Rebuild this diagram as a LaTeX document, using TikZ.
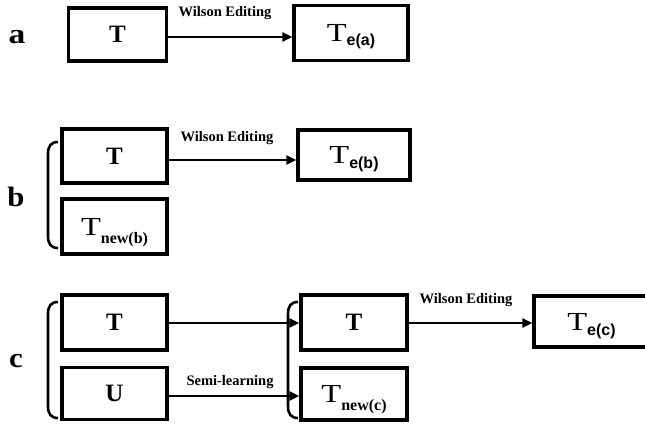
\documentclass[tikz,border=0pt]{standalone}
\usepackage{fontspec}
\setmainfont{Liberation Serif}
\setsansfont{Liberation Sans}
\usetikzlibrary{arrows.meta}
\newcommand{\plaintxt}[1]{{\fontsize{25}{25}\selectfont\bfseries #1}}
\newcommand{\subtxt}[3]{{\fontsize{26}{26}\selectfont\scalebox{1.25}[1]{T}\smash{\raisebox{#3}{\fontsize{16}{16}\selectfont #1\bfseries #2}}}}
\tikzset{
  bx/.style={draw=black, line width=3.2pt, inner sep=0pt, rectangle},
  arr/.style={line width=2.6pt, -{Triangle[length=10pt,width=9pt]}},
  lbl/.style={font=\fontsize{14.5}{15}\selectfont\bfseries, inner sep=0pt},
  rowlbl/.style={font=\fontsize{28}{28}\selectfont\bfseries, inner sep=0pt},
  brc/.style={line width=2.6pt}
}
\begin{document}
\begin{tikzpicture}[x=1pt,y=-1pt]
\useasboundingbox (0,0) rectangle (645,423);
\clip (0,0) rectangle (645,423);
% row a
\node[rowlbl] (la) at (17,37) {\scalebox{1.2}[1]{a}};
\node[bx, minimum width=98pt, minimum height=53pt] (Ta) at (117.5,34.5) {\plaintxt{T}};
\node[bx, minimum width=114pt, minimum height=55pt] (Tea) at (351,33) {\subtxt{\sffamily}{e(a)}{-4pt}};
\draw[arr] (Ta.east |- 0,37) -- (Tea.west |- 0,37);
\node[lbl] (wa) at (225,13) {Wilson Editing};
% row b
\node[rowlbl] (lb) at (16,197) {\scalebox{1.1}[1]{b}};
\node[bx, minimum width=105pt, minimum height=54pt] (Tb) at (114.5,156) {\plaintxt{T}};
\node[bx, minimum width=105pt, minimum height=55pt] (Tnb) at (114.5,226.5) {\subtxt{\rmfamily}{new(b)}{-8pt}};
\node[bx, minimum width=112pt, minimum height=50pt] (Teb) at (354,155) {\subtxt{\sffamily}{e(b)}{-5pt}};
\draw[arr] (Tb.east |- 0,160) -- (Teb.west |- 0,160);
\node[lbl] (wb) at (227,138) {Wilson Editing};
\draw[brc] (58,142) .. controls (51,142) and (48,146) .. (48,154) -- (48,236) .. controls (48,244) and (51,248) .. (58,248);
% row c
\node[rowlbl] (lc) at (16,361) {\scalebox{1.1}[1]{c}};
\node[bx, minimum width=105pt, minimum height=55pt] (Tc) at (114.5,322.5) {\plaintxt{T}};
\node[bx, minimum width=105pt, minimum height=52pt] (Uc) at (114.5,393.5) {\plaintxt{U}};
\node[bx, minimum width=106pt, minimum height=55pt] (Tc2) at (354,322.5) {\plaintxt{T}};
\node[bx, minimum width=106pt, minimum height=52pt] (Tnc) at (354,394) {\subtxt{\rmfamily}{new(c)}{-8pt}};
\node[bx, minimum width=126pt, minimum height=51pt] (Tec) at (597,321.5) {\hspace*{-11pt}\subtxt{\sffamily}{e(c)}{-5pt}};
\draw[arr] (Tc.east |- 0,323) -- (Tc2.west |- 0,323);
\draw[arr] (Uc.east |- 0,396) -- (Tnc.west |- 0,396);
\draw[arr] (Tc2.east |- 0,323) -- (Tec.west |- 0,323);
\node[lbl] (wc) at (466,300) {Wilson Editing};
\node[lbl] (sl) at (230,382) {Semi-learning};
\draw[brc] (58,302) .. controls (51,302) and (48,306) .. (48,314) -- (48,406) .. controls (48,414) and (51,418) .. (58,418);
\draw[brc] (298,302) .. controls (291,302) and (288,306) .. (288,314) -- (288,406) .. controls (288,414) and (291,418) .. (298,418);
\end{tikzpicture}
\end{document}
